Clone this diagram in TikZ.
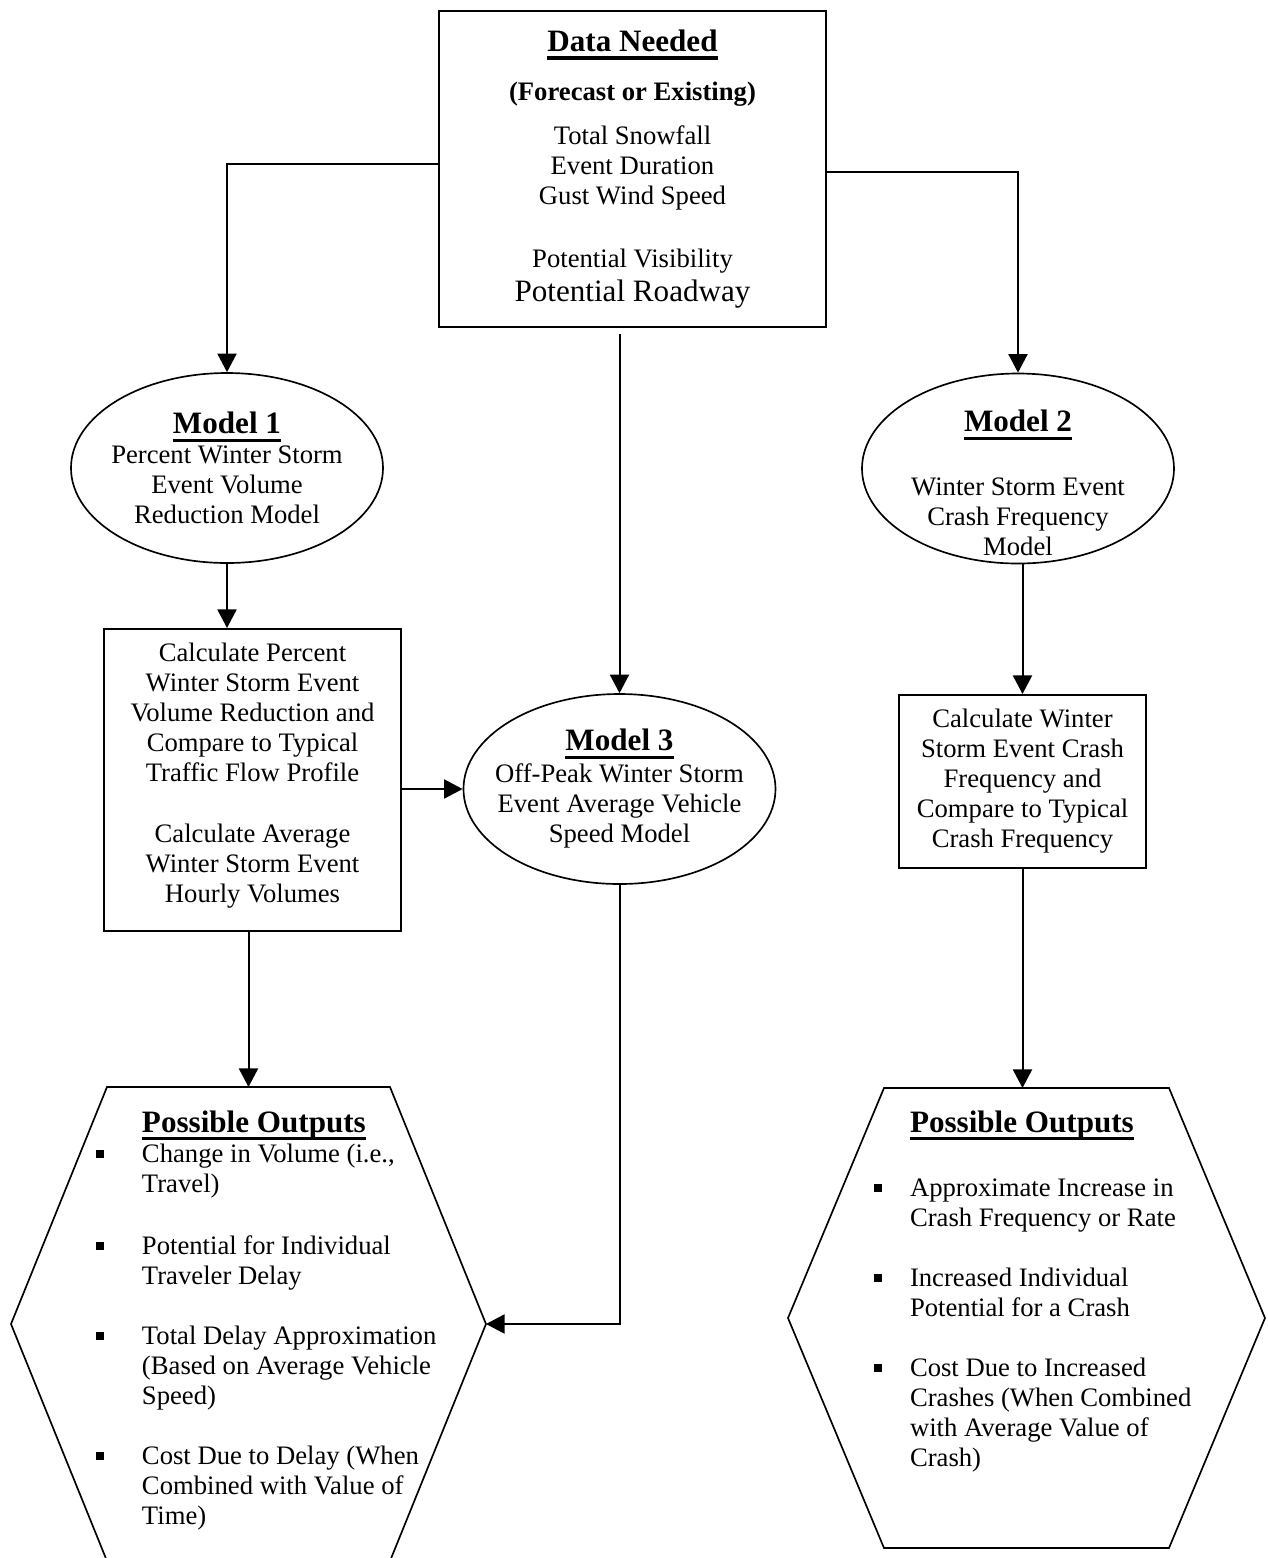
\documentclass[tikz,border=0pt]{standalone}
\usepackage{fontspec}
\setmainfont{Liberation Serif}
\usepackage{tikz}
\usetikzlibrary{shapes.geometric,arrows.meta,calc}

\newcommand{\boxtitle}[1]{\leavevmode{\fontsize{14}{13.5}\selectfont\bfseries
  \setbox0\hbox{#1}\rlap{\rule[-3.6pt]{\wd0}{1.4pt}}\box0}}
\newcommand{\sqbullet}[1]{\leavevmode\llap{\rule[2pt]{3.6pt}{3.6pt}\hspace{#1}}}

\begin{document}
\begin{tikzpicture}[x=0.45pt,y=-0.45pt,
   every node/.style={font=\fontsize{12}{13.5}\selectfont},
   datastate/.style={draw,line width=0.9pt,align=center,inner sep=0pt,minimum width=174.15pt,minimum height=142.2pt},
   model/.style={draw,ellipse,line width=0.75pt,align=center,inner sep=-12pt,minimum width=140.4pt,minimum height=85.5pt},
   calcstate/.style={draw,line width=0.9pt,align=center,inner sep=0pt},
   outstate/.style={inner sep=0pt,outer sep=0pt},
   to/.style={-{Triangle[length=8.4pt,width=8.6pt]},line width=0.9pt}]
\useasboundingbox (0,0) rectangle (1267,1558);
\node[datastate] (data) at (632.5,169) {\boxtitle{Data Needed}\\[8.5pt]
  \textbf{(Forecast or Existing)}\\[6.3pt]
  Total Snowfall\\ Event Duration\\ Gust Wind Speed\\[14.85pt]
  Potential Visibility\\[1.8pt]
  {\fontsize{14}{13.5}\selectfont Potential Roadway}};
\node[model] (m1) at (227,468) {\boxtitle{Model 1}\\ Percent Winter Storm\\ Event Volume\\ Reduction Model};
\node[model] (m2) at (1018,468.5) {\boxtitle{Model 2}\rule{0pt}{23pt}\\[15.3pt] Winter Storm Event\\ Crash Frequency\\ Model};
\node[model] (m3) at (619.5,789) {\boxtitle{Model 3}\\[0.9pt] Off-Peak Winter Storm\\ Event Average Vehicle\\ Speed Model};
\node[calcstate,minimum width=133.65pt,minimum height=135.9pt] (c1) at (252.5,780) {Calculate Percent\\
  Winter Storm Event\\ Volume Reduction and\\ Compare to Typical\\ Traffic Flow Profile\\[13.9pt]
  Calculate Average\\ Winter Storm Event\\ Hourly Volumes\rule[-6.6pt]{0pt}{6.6pt}};
\node[calcstate,minimum width=111.15pt,minimum height=77.85pt] (c2) at (1022.5,781.5) {Calculate Winter\\
  Storm Event Crash\\ Frequency and\\ Compare to Typical\\ Crash Frequency};
\node[outstate] (out1) at (248.5,1324) {\parbox[c][213.3pt][t]{213.75pt}{\fontsize{12}{13.5}\selectfont\leftskip=58.95pt
  \vspace*{10.75pt}
  \boxtitle{Possible Outputs}\\
  \sqbullet{17.1pt}Change in Volume (i.e.,\\ Travel)\\[14.4pt]
  \sqbullet{17.1pt}Potential for Individual\\ Traveler Delay\\[13.5pt]
  \sqbullet{17.1pt}Total Delay Approximation\\ (Based on Average Vehicle\\ Speed)\\[13.5pt]
  \sqbullet{17.1pt}Cost Due to Delay (When\\ Combined with Value of\\ Time)}};
\node[outstate] (out2) at (1026.5,1318) {\parbox[c][207pt][t]{214.65pt}{\fontsize{12}{13.5}\selectfont\leftskip=54.9pt
  \vspace*{10.3pt}
  \boxtitle{Possible Outputs}\\[15.3pt]
  \sqbullet{12.7pt}Approximate Increase in\\ Crash Frequency or Rate\\[13.5pt]
  \sqbullet{12.7pt}Increased Individual\\ Potential for a Crash\\[13.5pt]
  \sqbullet{12.7pt}Cost Due to Increased\\ Crashes (When Combined\\ with Average Value of\\ Crash)}};
\foreach \o in {out1,out2}
  \draw[line width=0.75pt] ($(\o.north west)+(96,0)$) -- ($(\o.north east)+(-96,0)$) -- (\o.east)
    -- ($(\o.south east)+(-96,0)$) -- ($(\o.south west)+(96,0)$) -- (\o.west) -- cycle;
\draw[to] ([yshift=2.25pt]data.west) -| (m1.north);
\draw[to] ([yshift=-1.35pt]data.east) -| (m2.north);
\draw[to,shorten <=2.7pt] (data.south -| m3.north) -- (m3.north);
\draw[to] (m1.south) -- (m1.south |- c1.north);
\draw[to] (c1.east |- m3.west) -- (m3.west);
\draw[to] (c1.south -| out1.north) -- (out1.north);
\draw[to] (m3.south) |- (out1.east);
\draw[to] (c2.north |- m2.south) -- (c2.north);
\draw[to] (c2.south) -- (c2.south |- out2.north);
\end{tikzpicture}
\end{document}
